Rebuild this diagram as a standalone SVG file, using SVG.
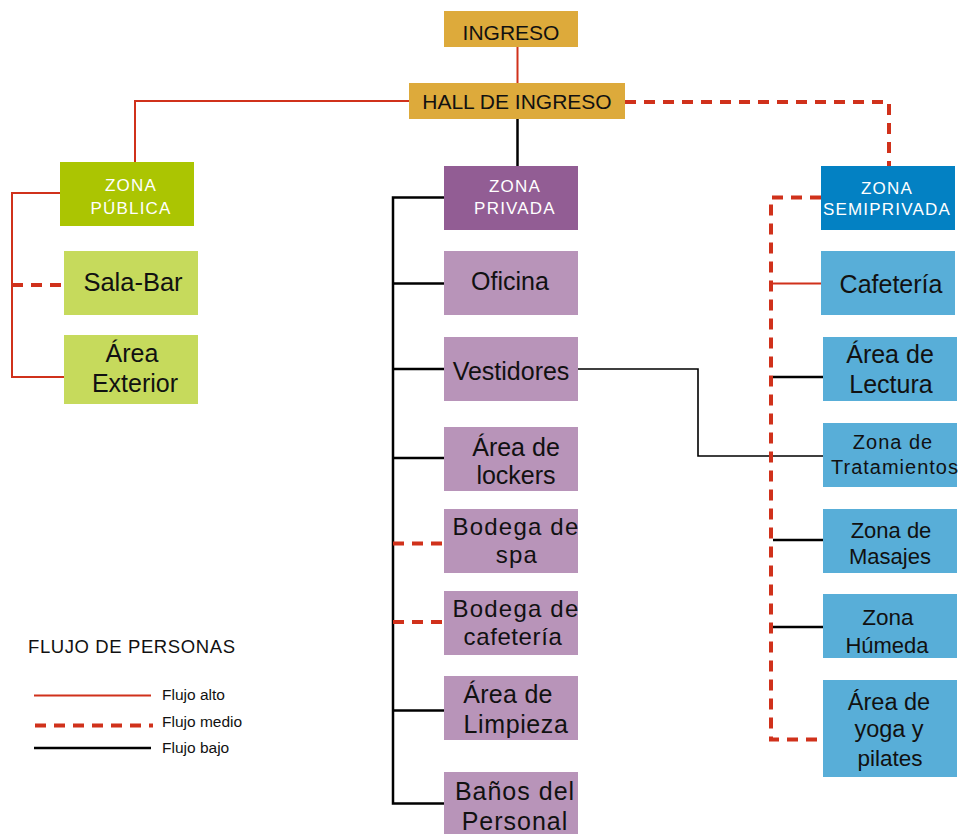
<svg xmlns="http://www.w3.org/2000/svg" width="961" height="834" viewBox="0 0 961 834">
<style>
text{font-family:"Liberation Sans",Arial,sans-serif;fill:#111;text-anchor:middle}
.hd{fill:#fff;font-size:17px;letter-spacing:1.2px}
.gold{fill:#DDAA3B}
.pubH{fill:#ABC502}
.pub{fill:#C6DA5C}
.privH{fill:#925D94}
.priv{fill:#B894B9}
.semiH{fill:#0381C3}
.semi{fill:#58AED8}
.hi{fill:none;stroke:#D0311B;stroke-width:2}
.md{fill:none;stroke:#D0311B;stroke-width:4;stroke-dasharray:11 8}
.lo{fill:none;stroke:#000;stroke-width:2.5}
.thin{fill:none;stroke:#000;stroke-width:1.6}
</style>
<g id="connectors">
<line class="hi" x1="517.5" y1="47" x2="517.5" y2="83"/>
<polyline class="hi" points="409,101 135,101 135,162"/>
<line class="lo" x1="517.5" y1="119" x2="517.5" y2="166"/>
<polyline class="md" points="625,102 889,102 889,166"/>
<polyline class="hi" points="60,193 12,193 12,377 64,377"/>
<line class="md" x1="12" y1="285" x2="64" y2="285"/>
<polyline class="lo" points="444,197.5 393,197.5 393,803.5 444,803.5"/>
<line class="lo" x1="393" y1="283.5" x2="444" y2="283.5"/>
<line class="lo" x1="393" y1="369" x2="444" y2="369"/>
<line class="lo" x1="393" y1="458" x2="444" y2="458"/>
<line class="md" x1="393" y1="543.5" x2="444" y2="543.5"/>
<line class="md" x1="393" y1="622" x2="444" y2="622"/>
<line class="lo" x1="393" y1="710.5" x2="444" y2="710.5"/>
<polyline class="thin" points="578,369 698,369 698,456 823,456"/>
<polyline class="md" points="821,197.5 771,197.5 771,739.5 823,739.5"/>
<line class="hi" x1="771" y1="283.5" x2="821" y2="283.5"/>
<line class="lo" x1="773" y1="377" x2="823" y2="377"/>
<line class="lo" x1="773" y1="540" x2="823" y2="540"/>
<line class="lo" x1="773" y1="627" x2="823" y2="627"/>
</g>
<g id="ingreso"><rect class="gold" x="444" y="11" width="134" height="36"/><text x="511" y="40" font-size="21">INGRESO</text></g>
<g id="hall"><rect class="gold" x="409" y="83" width="216" height="36"/><text x="517" y="109" font-size="21">HALL DE INGRESO</text></g>
<g id="zona-publica"><rect class="pubH" x="60" y="162" width="134" height="64"/><text class="hd" x="131" y="191">ZONA</text><text class="hd" x="131" y="214">PÚBLICA</text></g>
<g id="sala-bar"><rect class="pub" x="64" y="251" width="134" height="64"/><text x="133" y="291" font-size="25.5">Sala-Bar</text></g>
<g id="area-exterior"><rect class="pub" x="64" y="335" width="134" height="69"/><text x="132" y="362" font-size="25">Área</text><text x="135" y="392" font-size="25">Exterior</text></g>
<g id="zona-privada"><rect class="privH" x="444" y="166" width="134" height="64"/><text class="hd" x="515" y="192">ZONA</text><text class="hd" x="515" y="214">PRIVADA</text></g>
<g id="oficina"><rect class="priv" x="444" y="251" width="134" height="64"/><text x="510" y="290" font-size="25">Oficina</text></g>
<g id="vestidores"><rect class="priv" x="444" y="337" width="134" height="64"/><text x="511" y="380" font-size="25">Vestidores</text></g>
<g id="area-lockers"><rect class="priv" x="444" y="427" width="134" height="64"/><text x="516" y="456" font-size="25">Área de</text><text x="516" y="484" font-size="25">lockers</text></g>
<g id="bodega-spa"><rect class="priv" x="444" y="509" width="134" height="64"/><text x="516" y="535" font-size="24" letter-spacing="1.2">Bodega de</text><text x="517" y="563" font-size="24" letter-spacing="1.2">spa</text></g>
<g id="bodega-cafeteria"><rect class="priv" x="444" y="591" width="134" height="64"/><text x="516" y="617" font-size="24" letter-spacing="1.2">Bodega de</text><text x="513" y="645" font-size="24" letter-spacing="0.6">cafetería</text></g>
<g id="area-limpieza"><rect class="priv" x="444" y="676" width="134" height="64"/><text x="508" y="703" font-size="25" letter-spacing="0.3">Área de</text><text x="516" y="733" font-size="25" letter-spacing="0.6">Limpieza</text></g>
<g id="banos-personal"><rect class="priv" x="444" y="772" width="134" height="64"/><text x="515" y="800" font-size="25" letter-spacing="1">Baños del</text><text x="515" y="830" font-size="25" letter-spacing="1">Personal</text></g>
<g id="zona-semiprivada"><rect class="semiH" x="821" y="166" width="134" height="64"/><text class="hd" x="887" y="194" font-size="15" letter-spacing="0.6">ZONA</text><text class="hd" x="887" y="215" font-size="15" letter-spacing="0.6">SEMIPRIVADA</text></g>
<g id="cafeteria"><rect class="semi" x="821" y="251" width="134" height="64"/><text x="891" y="293" font-size="25">Cafetería</text></g>
<g id="area-lectura"><rect class="semi" x="823" y="337" width="134" height="64"/><text x="890" y="363" font-size="25">Área de</text><text x="891" y="393" font-size="25">Lectura</text></g>
<g id="zona-tratamientos"><rect class="semi" x="823" y="423" width="134" height="64"/><text x="893" y="449" font-size="20" letter-spacing="1">Zona de</text><text x="895" y="474" font-size="20" letter-spacing="1">Tratamientos</text></g>
<g id="zona-masajes"><rect class="semi" x="823" y="509" width="134" height="64"/><text x="891" y="538" font-size="22">Zona de</text><text x="890" y="564" font-size="22">Masajes</text></g>
<g id="zona-humeda"><rect class="semi" x="823" y="594" width="134" height="64"/><text x="888" y="625" font-size="22.5">Zona</text><text x="887" y="653" font-size="22">Húmeda</text></g>
<g id="area-yoga"><rect class="semi" x="823" y="680" width="134" height="97"/><text x="889" y="710" font-size="23.5">Área de</text><text x="889" y="737" font-size="23.5">yoga y</text><text x="890" y="766" font-size="22.5">pilates</text></g>
<g id="legend">
<text x="28" y="653" font-size="18.5" letter-spacing="0.6" style="text-anchor:start">FLUJO DE PERSONAS</text>
<line class="hi" x1="34" y1="695.5" x2="151" y2="695.5"/>
<line class="md" x1="35" y1="725.5" x2="153" y2="725.5"/>
<line class="lo" x1="34" y1="748" x2="151" y2="748"/>
<text x="162" y="700" font-size="15.5" style="text-anchor:start">Flujo alto</text>
<text x="162" y="727" font-size="15.5" style="text-anchor:start">Flujo medio</text>
<text x="162" y="753" font-size="15.5" style="text-anchor:start">Flujo bajo</text>
</g>
</svg>
